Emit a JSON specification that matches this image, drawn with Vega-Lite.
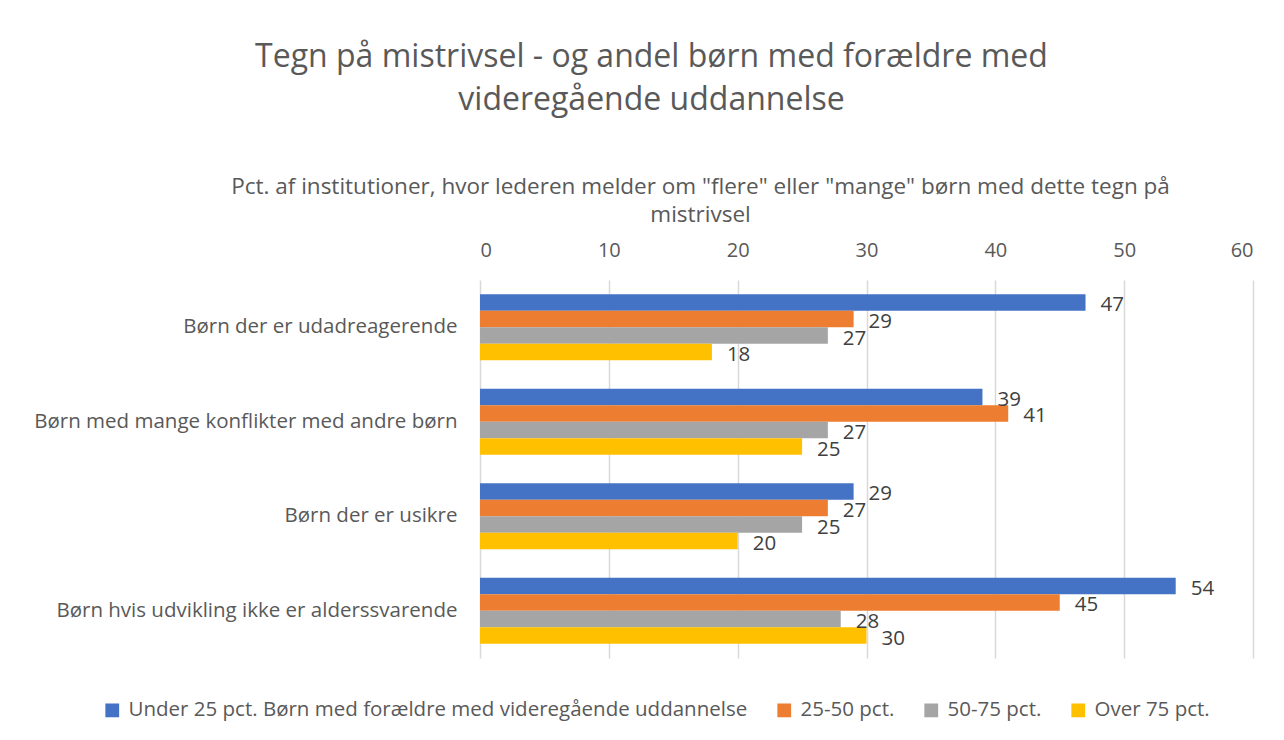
{
  "$schema": "https://vega.github.io/schema/vega-lite/v6.json",
  "width": 773,
  "height": 378,
  "autosize": {"type": "none"},
  "padding": {"left": 480, "top": 280, "right": 31, "bottom": 82},
  "background": "white",
  "config": {"view": {"stroke": null}},
  "title": {
    "text": ["Tegn på mistrivsel - og andel børn med forældre med", "videregående uddannelse"],
    "font": "Open Sans",
    "fontSize": 32,
    "fontWeight": "normal",
    "color": "#595959",
    "anchor": "middle",
    "dx": -215,
    "lineHeight": 43,
    "offset": 58
  },
  "data": {
    "values": [
      {"kategori": "Børn der er udadreagerende", "serie": "Under 25 pct. Børn med forældre med videregående uddannelse", "pct": 47},
      {"kategori": "Børn der er udadreagerende", "serie": "25-50 pct.", "pct": 29},
      {"kategori": "Børn der er udadreagerende", "serie": "50-75 pct.", "pct": 27},
      {"kategori": "Børn der er udadreagerende", "serie": "Over 75 pct.", "pct": 18},
      {"kategori": "Børn med mange konflikter med andre børn", "serie": "Under 25 pct. Børn med forældre med videregående uddannelse", "pct": 39},
      {"kategori": "Børn med mange konflikter med andre børn", "serie": "25-50 pct.", "pct": 41},
      {"kategori": "Børn med mange konflikter med andre børn", "serie": "50-75 pct.", "pct": 27},
      {"kategori": "Børn med mange konflikter med andre børn", "serie": "Over 75 pct.", "pct": 25},
      {"kategori": "Børn der er usikre", "serie": "Under 25 pct. Børn med forældre med videregående uddannelse", "pct": 29},
      {"kategori": "Børn der er usikre", "serie": "25-50 pct.", "pct": 27},
      {"kategori": "Børn der er usikre", "serie": "50-75 pct.", "pct": 25},
      {"kategori": "Børn der er usikre", "serie": "Over 75 pct.", "pct": 20},
      {"kategori": "Børn hvis udvikling ikke er alderssvarende", "serie": "Under 25 pct. Børn med forældre med videregående uddannelse", "pct": 54},
      {"kategori": "Børn hvis udvikling ikke er alderssvarende", "serie": "25-50 pct.", "pct": 45},
      {"kategori": "Børn hvis udvikling ikke er alderssvarende", "serie": "50-75 pct.", "pct": 28},
      {"kategori": "Børn hvis udvikling ikke er alderssvarende", "serie": "Over 75 pct.", "pct": 30}
    ]
  },
  "encoding": {
    "y": {
      "field": "kategori",
      "type": "nominal",
      "sort": ["Børn der er udadreagerende", "Børn med mange konflikter med andre børn", "Børn der er usikre", "Børn hvis udvikling ikke er alderssvarende"],
      "scale": {"paddingInner": 0.3, "paddingOuter": 0.15},
      "axis": {
        "title": null,
        "labelFont": "Open Sans",
        "labelFontSize": 20.5,
        "labelColor": "#595959",
        "labelPadding": 23,
        "labelLimit": 500,
        "ticks": false,
        "domain": false
      }
    },
    "yOffset": {
      "field": "serie",
      "type": "nominal",
      "sort": ["Under 25 pct. Børn med forældre med videregående uddannelse", "25-50 pct.", "50-75 pct.", "Over 75 pct."]
    },
    "x": {
      "field": "pct",
      "type": "quantitative",
      "scale": {"domain": [0, 60]},
      "axis": {
        "orient": "top",
        "values": [0, 10, 20, 30, 40, 50, 60],
        "title": ["Pct. af institutioner, hvor lederen melder om \"flere\" eller \"mange\" børn med dette tegn på", "mistrivsel"],
        "titleFont": "Open Sans",
        "titleFontSize": 22.5,
        "titleFontWeight": "normal",
        "titleColor": "#595959",
        "titleLineHeight": 28,
        "titleAnchor": "middle",
        "titleX": 220,
        "titlePadding": 14,
        "labelFont": "Open Sans",
        "labelFontSize": 20,
        "labelColor": "#595959",
        "labelPadding": 20,
        "ticks": false,
        "domain": false,
        "grid": true,
        "gridColor": "#d9d9d9",
        "gridWidth": 1.5
      }
    }
  },
  "layer": [
    {
      "mark": {"type": "bar"},
      "encoding": {
        "color": {
          "field": "serie",
          "type": "nominal",
          "scale": {
            "domain": ["Under 25 pct. Børn med forældre med videregående uddannelse", "25-50 pct.", "50-75 pct.", "Over 75 pct."],
            "range": ["#4472C4", "#ED7D31", "#A5A5A5", "#FFC000"]
          },
          "legend": {
            "title": null,
            "orient": "none",
            "direction": "horizontal",
            "legendX": -378,
            "legendY": 420,
            "symbolType": "square",
            "symbolSize": 190,
            "symbolStrokeWidth": 0,
            "labelFont": "Open Sans",
            "labelFontSize": 20.5,
            "labelColor": "#595959",
            "labelLimit": 800,
            "columnPadding": 26,
            "labelOffset": 6
          }
        }
      }
    },
    {
      "mark": {"type": "text", "align": "left", "baseline": "middle", "dx": 15, "dy": 3, "font": "Open Sans", "fontSize": 20.5, "color": "#404040"},
      "encoding": {
        "text": {"field": "pct", "type": "quantitative"}
      }
    }
  ]
}
